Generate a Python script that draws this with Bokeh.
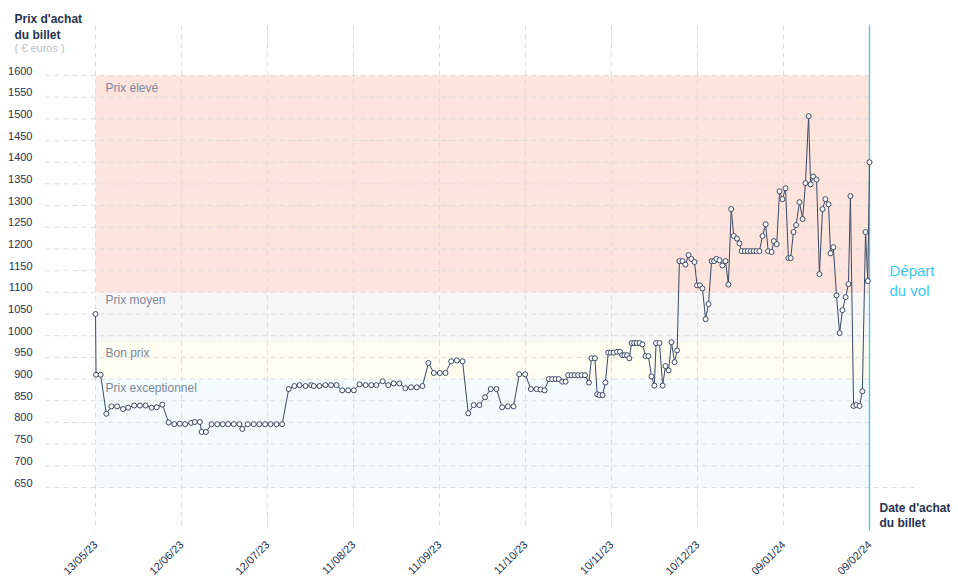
import math
from bokeh.plotting import figure
from bokeh.models import Range1d, FixedTicker, CustomJSTickFormatter, Label, LinearAxis
from bokeh.embed import file_html
from bokeh.resources import INLINE

# ---- data -------------------------------------------------------------
# days since 13/05/23 (purchase date) and ticket price in euros
days = [
    0, 0.2, 1.8, 3.8, 5.6, 7.6, 9.7, 11.5, 13.6, 15.6,
    17.6, 19.7, 21.5, 23.5, 25.7, 27.7, 29.6, 31.5, 33.6, 34.9,
    36.7, 37.3, 38.8, 40.8, 42.8, 44.7, 46.6, 48.6, 50.6, 51.6,
    53.5, 55.6, 57.6, 59.6, 61.5, 63.6, 65.6, 67.9, 69.9, 71.7,
    73.8, 75.8, 76.7, 78.7, 80.8, 82.8, 84.7, 86.7, 88.8, 90.8,
    92.8, 94.9, 96.9, 98.7, 100.9, 102.9, 104.8, 106.8, 108.9, 110.9,
    112.9, 114.9, 117.0, 118.9, 121.0, 123.0, 125.0, 127.0, 129.0, 131.0,
    132.9, 134.9, 136.9, 138.9, 140.9, 142.9, 144.9, 146.9, 148.9, 151.0,
    153.0, 155.0, 156.4, 157.8, 159.3, 160.5, 161.7, 162.8, 164.0, 165.2,
    166.1, 167.3, 168.4, 169.6, 170.8, 172.0, 173.4, 174.3, 175.5, 176.3,
    177.1, 178.2, 179.2, 180.2, 181.1, 182.1, 183.3, 184.3, 185.1, 185.9,
    186.8, 187.6, 188.4, 189.3, 190.2, 191.2, 192.2, 193.3, 194.3, 195.4,
    196.4, 197.0, 198.2, 199.3, 200.3, 201.4, 202.4, 203.5, 204.4, 205.2,
    206.3, 207.3, 208.4, 209.4, 210.5, 211.4, 212.4, 213.3, 214.4, 215.4,
    216.5, 217.4, 218.2, 219.3, 220.3, 221.4, 222.4, 223.4, 224.3, 225.4,
    226.3, 227.1, 228.2, 229.2, 230.3, 231.3, 232.3, 233.3, 234.4, 235.5,
    236.4, 237.6, 238.4, 239.4, 240.4, 241.4, 242.5, 243.5, 244.3, 245.3,
    246.2, 247.4, 248.5, 249.5, 250.6, 251.3, 252.2, 253.4, 254.4, 255.5,
    256.5, 257.6, 258.3, 259.3, 260.4, 261.5, 262.5, 263.6, 264.6, 265.3,
    266.4, 267.4, 268.5, 269.5, 270.6, 271.4, 272.0,
]
prices = [
    1050, 910, 910, 820, 837, 837, 831, 834, 839, 839,
    839, 834, 835, 841, 800, 796, 797, 796, 799, 801,
    801, 778, 778, 796, 796, 796, 796, 796, 796, 785,
    796, 796, 796, 796, 796, 796, 796, 877, 884, 886,
    884, 886, 884, 884, 886, 886, 886, 874, 874, 874,
    888, 886, 886, 886, 895, 886, 890, 890, 879, 881,
    881, 884, 937, 914, 914, 914, 941, 943, 941, 821,
    840, 840, 858, 877, 877, 835, 837, 837, 911, 911,
    877, 877, 876, 874, 900, 900, 900, 900, 894, 894,
    909, 909, 909, 909, 909, 909, 892, 948, 948, 865,
    863, 863, 892, 961, 961, 961, 963, 963, 955, 955,
    955, 948, 983, 983, 983, 983, 980, 953, 953, 906,
    885, 983, 983, 885, 930, 920, 985, 939, 966, 1172,
    1172, 1164, 1186, 1177, 1170, 1116, 1116, 1109, 1038, 1073,
    1172, 1172, 1177, 1174, 1162, 1172, 1118, 1292, 1230, 1224,
    1213, 1195, 1195, 1195, 1195, 1195, 1195, 1195, 1230, 1257,
    1195, 1193, 1218, 1211, 1333, 1315, 1340, 1179, 1179, 1239,
    1255, 1308, 1269, 1352, 1506, 1349, 1367, 1360, 1142, 1292,
    1315, 1303, 1190, 1204, 1093, 1006, 1059, 1089, 1119, 1322,
    838, 840, 838, 872, 1239, 1126, 1400,
]
period_days = 272  # 13/05/23 -> 09/02/24 (flight departure)
x_tick_labels = ["13/05/23", "12/06/23", "12/07/23", "11/08/23", "11/09/23",
                 "11/10/23", "10/11/23", "10/12/23", "09/01/24", "09/02/24"]
y_ticks = list(range(650, 1601, 50))

band_names = ["Prix exceptionnel", "Bon prix", "Prix moyen", "Prix élevé"]
band_low = [650, 900, 985, 1100]
band_high = [900, 985, 1100, 1600]
band_colors = ["#f3fbfe", "#fdfdf1", "#f7f7f8", "#fde5de"]

# ---- layout / styling ---------------------------------------------------
FONT = "Liberation Sans"
NAVY = "#26324f"
LINE = "#3c4864"
GRID = "#dcdcdc"
CYAN = "#3cc8ef"

W, H = 950, 584
FRAME_H = 530                       # frame covers the canvas down to the x axis
px_day = 774 / period_days          # pixels per day
px_eur = 412 / (y_ticks[-1] - y_ticks[0])  # pixels per euro
x_start = -95 / px_day
x_end = x_start + W / px_day
y_end = y_ticks[-1] + 75 / px_eur
y_start = y_end - FRAME_H / px_eur
grid_top = y_end - 25 / px_eur
grid_left = x_start + 45 / px_day
grid_right_long = x_start + 919 / px_day

step = period_days / (len(x_tick_labels) - 1)
x_ticks = [step * k for k in range(len(x_tick_labels))]

p = figure(width=W, height=H,
           x_range=Range1d(x_start, x_end), y_range=Range1d(y_start, y_end),
           output_backend="svg", toolbar_location=None, y_axis_location=None,
           min_border_left=0, min_border_right=0, min_border_top=0, min_border_bottom=0)
p.outline_line_color = None
p.background_fill_color = "white"
p.border_fill_color = "white"
p.xgrid.visible = False
p.ygrid.visible = False

# bands
p.quad(left=0, right=period_days, bottom=band_low, top=band_high,
       fill_color=band_colors, line_color=None)

# grid lines
p.segment(x0=x_ticks, x1=x_ticks, y0=[grid_top] * len(x_ticks), y1=[y_start] * len(x_ticks),
          line_color=GRID, line_dash="5 4", line_width=1)
hx1 = [grid_right_long if t == y_ticks[0] else period_days for t in y_ticks]
p.segment(x0=[grid_left] * len(y_ticks), x1=hx1, y0=y_ticks, y1=y_ticks,
          line_color=GRID, line_dash="5 4", line_width=1)

# departure line
p.segment(x0=[period_days], x1=[period_days], y0=[grid_top], y1=[y_start],
          line_color=CYAN, line_width=1.3)

# x axis
xa = p.xaxis[0]
xa.ticker = FixedTicker(ticks=x_ticks)
xa.formatter = CustomJSTickFormatter(args=dict(labels=x_tick_labels, step=step),
                                     code="return labels[Math.round(tick / step)];")
xa.axis_line_color = None
xa.major_tick_line_color = None
xa.minor_tick_line_color = None
xa.major_label_orientation = math.pi / 4
xa.major_label_standoff = 6
xa.major_label_text_font = FONT
xa.major_label_text_font_size = "11px"
xa.major_label_text_color = NAVY

# y axis: labels drawn inside the left margin, a little above their grid lines
shift = 5 / px_eur
p.extra_y_ranges = {"ylab": Range1d(y_start - shift, y_end - shift)}
ya = LinearAxis(y_range_name="ylab", ticker=FixedTicker(ticks=y_ticks))
ya.axis_line_color = None
ya.major_tick_line_color = None
ya.minor_tick_line_color = None
ya.major_tick_in = 0
ya.major_tick_out = 0
ya.major_label_standoff = -32
ya.major_label_text_font = FONT
ya.major_label_text_font_size = "11px"
ya.major_label_text_color = NAVY
p.add_layout(ya, "left")

# data
p.line(days, prices, line_color=LINE, line_width=1)
p.scatter(days, prices, size=5, fill_color="white", line_color=LINE, line_width=1)

# band labels
band_offsets = [-9, -11, -8, -12]
for name, top, off in zip(band_names, band_high, band_offsets):
    p.add_layout(Label(x=0, y=top, x_offset=10, y_offset=off, text=name,
                       text_font=FONT, text_font_size="12px", text_color="#80869a",
                       text_baseline="middle", text_align="left"))

def screen_label(x, y, text, size="12px", color=NAVY, style="bold"):
    p.add_layout(Label(x=x, y=FRAME_H - y, x_units="screen", y_units="screen", text=text,
                       text_font=FONT, text_font_size=size, text_color=color,
                       text_font_style=style, text_baseline="middle", text_align="left"))

screen_label(14, 18, "Prix d'achat")
screen_label(14, 34, "du billet")
screen_label(14, 47, "( € euros )", size="11px", color="#b9bdc5", style="normal")
screen_label(879, 507, "Date d'achat")
screen_label(879, 522, "du billet")
screen_label(889, 270, "Départ", size="15px", color=CYAN, style="normal")
screen_label(889, 290, "du vol", size="15px", color=CYAN, style="normal")

open("out.html", "w").write(file_html(p, INLINE))
